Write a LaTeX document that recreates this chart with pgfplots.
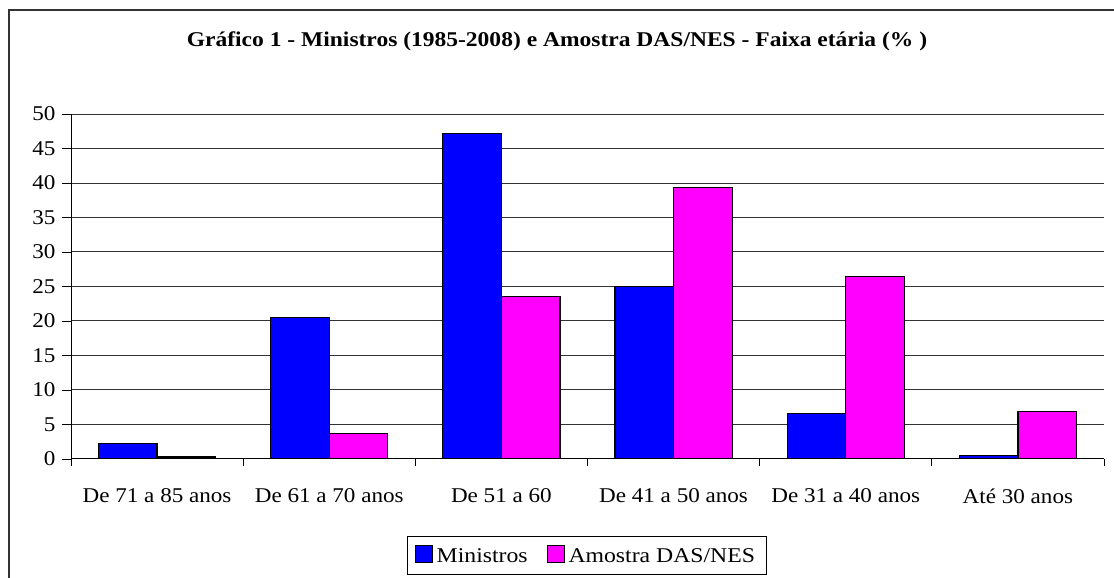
\documentclass[border=0pt]{standalone}
\usepackage{pgfplots}
\pgfplotsset{compat=1.18}
\usepackage{fontspec}
\setmainfont[FakeStretch=1.1]{Liberation Serif}
\newfontfamily\titlefont[FakeStretch=1.12]{Liberation Serif Bold}
\newfontfamily\legfont[FakeStretch=1.13]{Liberation Serif}
\definecolor{mblue}{RGB}{0,0,255}
\definecolor{mmag}{RGB}{255,0,255}
\begin{document}
\begin{tikzpicture}[x=1pt,y=1pt]
\useasboundingbox (0,0) rectangle (1114,578);
\draw[line width=1.5pt, black!80] (9,-10) -- (9,568) -- (1124,568);
\node[font=\titlefont\fontsize{21}{25}\selectfont, anchor=base] at (557,531) {Gráfico 1 - Ministros (1985-2008) e Amostra DAS/NES - Faixa etária (\% )};
\begin{axis}[
 at={(71pt,119pt)}, anchor=south west,
 scale only axis, width=1033pt, height=345pt,
 xmin=-0.5, xmax=5.5, ymin=0, ymax=50,
 axis x line*=bottom, axis y line*=left,
 axis line style={black, line width=1pt},
 ytick={0,5,...,50},
 xtick={0,...,5},
 xticklabels={De 71 a 85 anos, De 61 a 70 anos, De 51 a 60, De 41 a 50 anos, De 31 a 40 anos, Até 30 anos},
 major x tick style={draw=none},
 minor xtick={-0.5,0.5,...,5.5},
 tick align=outside,
 major tick length=9pt, minor tick length=7pt,
 tick style={black, line width=0.8pt},
 ymajorgrids, grid style={black!80, line width=1pt},
 /pgf/number format/assume math mode=true,
 tick label style={font=\fontsize{21}{25}\selectfont},
 xticklabel style={yshift=-17pt},
 yticklabel style={xshift=-3pt},
 ybar=0pt, bar width=0.34,
 legend columns=2,
 legend style={at={(0.3253,-0.2232)}, anchor=north west, draw=black, line width=0.8pt,
   font=\legfont\fontsize{21}{25}\selectfont, inner xsep=8pt, inner ysep=9pt,
   nodes={inner xsep=3.5pt},
   /tikz/every even column/.append style={column sep=16pt}},
 legend image code/.code={\draw[#1, draw=black, line width=0.8pt] (0pt,-7pt) rectangle (17pt,10pt);},
]
\addplot[fill=mblue, draw=black, line width=1.2pt] coordinates {(0,2.2) (1,20.5) (2,47.2) (3,25.0) (4,6.6) (5,0.5)};
\addplot[fill=mmag, draw=black, line width=1.2pt] coordinates {(0,0.3) (1,3.7) (2,23.6) (3,39.4) (4,26.4) (5,6.9)};
\legend{Ministros, Amostra DAS/NES}
\end{axis}
\end{tikzpicture}
\end{document}
